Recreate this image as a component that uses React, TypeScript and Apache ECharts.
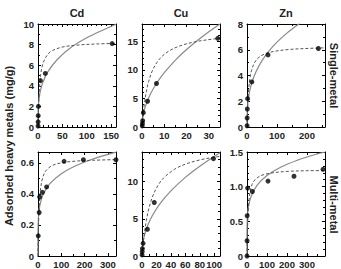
import React, { useEffect, useRef } from 'react';
import * as echarts from 'echarts';

const panelTitles = ['Cd', 'Cu', 'Zn'];
const rowLabels = ['Single-metal', 'Multi-metal'];
const yAxisTitle = 'Adsorbed heavy metals (mg/g)';

// ---- Single-metal: measured points ----
const cdSinglePointsX = [0.1, 0.2, 0.4, 0.8, 5, 15, 152];
const cdSinglePointsY = [0.1, 0.5, 1.1, 2.0, 4.5, 5.2, 8.1];
const cuSinglePointsX = [0.1, 0.2, 0.3, 0.6, 2.5, 6.5, 34];
const cuSinglePointsY = [0.2, 0.6, 1.1, 2.5, 4.5, 7.6, 15.5];
const znSinglePointsX = [0.3, 0.5, 1, 2, 16, 70, 238];
const znSinglePointsY = [0.1, 0.7, 1.4, 2.2, 3.5, 5.6, 6.1];

// ---- Single-metal: Freundlich (solid) curves ----
const cdSingleFreundlichX = [0, 0.05, 0.5, 1, 2, 5, 10, 20, 40, 70, 100, 130, 160];
const cdSingleFreundlichY = [0, 0.89, 1.77, 2.18, 2.68, 3.54, 4.35, 5.35, 6.58, 7.81, 8.66, 9.35, 9.98];
const cuSingleFreundlichX = [0, 0.1, 0.5, 1, 2, 4, 7, 10, 15, 20, 25, 30, 35];
const cuSingleFreundlichY = [0, 0.9, 2.05, 2.92, 4.16, 5.94, 7.9, 9.49, 11.69, 13.54, 15.17, 16.66, 18.02];
const znSingleFreundlichX = [0, 0.1, 1, 3, 8, 16, 30, 50, 75, 100, 130, 160, 175];
const znSingleFreundlichY = [0, 0.57, 1.28, 1.9, 2.69, 3.44, 4.29, 5.15, 5.95, 6.59, 7.23, 7.78, 8.04];

// ---- Single-metal: Langmuir (dashed) curves ----
const cdSingleLangmuirX = [0, 1, 2, 5, 10, 20, 30, 50, 80, 120, 160];
const cdSingleLangmuirY = [0, 1.84, 3.01, 4.88, 6.14, 7.06, 7.43, 7.76, 7.95, 8.06, 8.12];
const cuSingleLangmuirX = [0, 0.5, 1, 2, 3, 5, 8, 12, 17, 23, 29, 35];
const cuSingleLangmuirY = [0, 2.18, 3.87, 6.31, 7.98, 10.13, 11.94, 13.26, 14.17, 14.82, 15.22, 15.5];
const znSingleLangmuirX = [0, 1, 3, 6, 10, 15, 25, 40, 60, 90, 140, 200, 260];
const znSingleLangmuirY = [0, 0.84, 1.98, 3.02, 3.81, 4.39, 4.99, 5.42, 5.68, 5.87, 6.02, 6.1, 6.15];

// ---- Multi-metal: measured points ----
const cdMultiPointsX = [1, 5, 7, 19, 37, 112, 195, 335];
const cdMultiPointsY = [0.13, 0.28, 0.38, 0.41, 0.445, 0.61, 0.62, 0.62];
const cuMultiPointsX = [0.1, 0.3, 0.6, 1.5, 7.5, 17, 99];
const cuMultiPointsY = [0.15, 0.6, 1.0, 1.7, 3.6, 7.2, 13.1];
const znMultiPointsX = [0.1, 0.3, 0.8, 3, 27, 105, 235, 380];
const znMultiPointsY = [0.0, 0.22, 0.58, 0.98, 0.93, 1.08, 1.15, 1.25];

// ---- Multi-metal: Freundlich (solid) curves ----
const cdMultiFreundlichX = [0, 0.01, 0.1, 0.5, 1, 3, 8, 20, 50, 100, 160, 230, 335];
const cdMultiFreundlichY = [0, 0.09, 0.141, 0.192, 0.219, 0.27, 0.326, 0.389, 0.464, 0.53, 0.58, 0.622, 0.669];
const cuMultiFreundlichX = [0, 0.1, 1, 3, 8, 15, 25, 40, 60, 80, 100, 108];
const cuMultiFreundlichY = [0, 0.54, 1.58, 2.63, 4.14, 5.55, 7.04, 8.76, 10.58, 12.09, 13.41, 13.9];
const znMultiFreundlichX = [0, 0.01, 0.1, 1, 3, 8, 20, 50, 100, 170, 250, 320, 390];
const znMultiFreundlichY = [0, 0.204, 0.314, 0.486, 0.598, 0.72, 0.856, 1.018, 1.16, 1.283, 1.38, 1.446, 1.5];

// ---- Multi-metal: Langmuir (dashed) curves ----
const cdMultiLangmuirX = [0, 1, 3, 6, 10, 20, 35, 60, 100, 160, 240, 335];
const cdMultiLangmuirY = [0, 0.105, 0.236, 0.344, 0.42, 0.504, 0.551, 0.582, 0.6, 0.611, 0.617, 0.621];
const cuMultiLangmuirX = [0, 1, 3, 6, 10, 15, 22, 30, 45, 60, 80, 100, 108];
const cuMultiLangmuirY = [0, 1.09, 2.84, 4.78, 6.57, 8.09, 9.48, 10.51, 11.67, 12.36, 12.93, 13.3, 13.41];
const znMultiLangmuirX = [0, 1, 3, 6, 10, 15, 25, 40, 70, 120, 200, 300, 390];
const znMultiLangmuirY = [0, 0.19, 0.44, 0.65, 0.81, 0.92, 1.03, 1.1, 1.16, 1.196, 1.22, 1.23, 1.232];

// ---- Axis ranges (Cd, Cu, Zn single; Cd, Cu, Zn multi) ----
const xMaxes = [160, 35, 260, 335, 108, 390];
const xIntervals = [50, 10, 100, 100, 20, 100];
const xMinorSplits = [5, 2, 2, 2, 2, 2];
const yMaxes = [10, 18, 8, 0.67, 14, 1.5];
const yIntervals = [2, 5, 2, 0.2, 5, 0.5];
const yMinorSplits = [2, 5, 2, 2, 5, 5];
const yDecimals = [0, 0, 0, 1, 0, 1];

const pointsX = [cdSinglePointsX, cuSinglePointsX, znSinglePointsX, cdMultiPointsX, cuMultiPointsX, znMultiPointsX];
const pointsY = [cdSinglePointsY, cuSinglePointsY, znSinglePointsY, cdMultiPointsY, cuMultiPointsY, znMultiPointsY];
const freundX = [cdSingleFreundlichX, cuSingleFreundlichX, znSingleFreundlichX, cdMultiFreundlichX, cuMultiFreundlichX, znMultiFreundlichX];
const freundY = [cdSingleFreundlichY, cuSingleFreundlichY, znSingleFreundlichY, cdMultiFreundlichY, cuMultiFreundlichY, znMultiFreundlichY];
const langX = [cdSingleLangmuirX, cuSingleLangmuirX, znSingleLangmuirX, cdMultiLangmuirX, cuMultiLangmuirX, znMultiLangmuirX];
const langY = [cdSingleLangmuirY, cuSingleLangmuirY, znSingleLangmuirY, cdMultiLangmuirY, cuMultiLangmuirY, znMultiLangmuirY];

const FONT = '"Liberation Sans", Arial, sans-serif';
const colLeft = [38, 142, 247];
const colWidth = 78;
const rowTop = [24, 152];
const rowHeight = [103, 105];

const zip = (xs: number[], ys: number[]) => xs.map((x, i) => [x, ys[i]]);
const isMultiple = (v: number, step: number) => Math.abs(v / step - Math.round(v / step)) < 1e-6;

function buildOption() {
  const grid: any[] = [];
  const xAxis: any[] = [];
  const yAxis: any[] = [];
  const series: any[] = [];
  const graphic: any[] = [];

  for (let i = 0; i < 6; i++) {
    const row = Math.floor(i / 3);
    const col = i % 3;
    grid.push({ left: colLeft[col], top: rowTop[row], width: colWidth, height: rowHeight[row] });

    const lineStyle = { color: '#000', width: 1 };
    const tickCommon = { show: true, inside: true, length: 3, lineStyle };
    const xBase = {
      type: 'value', gridIndex: i, min: 0, max: xMaxes[i], interval: xIntervals[i],
      axisLine: { show: true, onZero: false, lineStyle },
      axisTick: tickCommon,
      minorTick: { show: true, splitNumber: xMinorSplits[i], length: 2, lineStyle },
      splitLine: { show: false },
      minorSplitLine: { show: false },
    };
    const xStep = xIntervals[i];
    xAxis.push({
      ...xBase, position: 'bottom',
      axisLabel: {
        show: true, margin: 3, fontFamily: FONT, fontWeight: 'bold', fontSize: 9.5, color: '#222',
        showMaxLabel: isMultiple(xMaxes[i], xStep),
        formatter: (v: number) => (isMultiple(v, xStep) ? String(Math.round(v)) : ''),
      },
    });
    xAxis.push({ ...xBase, position: 'top', axisLabel: { show: false } });

    const yStep = yIntervals[i];
    const dec = yDecimals[i];
    const yBase = {
      type: 'value', gridIndex: i, min: 0, max: yMaxes[i], interval: yStep,
      axisLine: { show: true, onZero: false, lineStyle },
      axisTick: tickCommon,
      minorTick: { show: true, splitNumber: yMinorSplits[i], length: 2, lineStyle },
      splitLine: { show: false },
      minorSplitLine: { show: false },
    };
    yAxis.push({
      ...yBase, position: 'left',
      axisLabel: {
        show: true, margin: 4, fontFamily: FONT, fontWeight: 'bold', fontSize: 9.5, color: '#222',
        showMaxLabel: isMultiple(yMaxes[i], yStep),
        formatter: (v: number) => (isMultiple(v, yStep) ? (v === 0 ? '0' : v.toFixed(dec)) : ''),
      },
    });
    yAxis.push({ ...yBase, position: 'right', axisLabel: { show: false } });

    const xi = i * 2;
    const yi = i * 2;
    series.push({
      type: 'line', xAxisIndex: xi, yAxisIndex: yi, data: zip(freundX[i], freundY[i]),
      showSymbol: false, symbol: 'none', smooth: 0.35, clip: true,
      lineStyle: { color: '#8a8a8a', width: 1.2 }, z: 2,
    });
    series.push({
      type: 'line', xAxisIndex: xi, yAxisIndex: yi, data: zip(langX[i], langY[i]),
      showSymbol: false, symbol: 'none', smooth: 0.35, clip: true,
      lineStyle: { color: '#555', width: 1, type: [3, 2] }, z: 3,
    });
    series.push({
      type: 'scatter', xAxisIndex: xi, yAxisIndex: yi, data: zip(pointsX[i], pointsY[i]),
      symbol: 'circle', symbolSize: 5, clip: false,
      itemStyle: { color: '#000' }, z: 4,
    });
  }

  panelTitles.forEach((t, c) => {
    graphic.push({
      type: 'text', x: colLeft[c] + colWidth / 2, y: 13,
      style: { text: t, font: `bold 11px ${FONT}`, fill: '#222', align: 'center', verticalAlign: 'middle' },
    });
  });
  graphic.push({
    type: 'text', x: 9, y: 146, rotation: Math.PI / 2,
    style: { text: yAxisTitle, font: `bold 11px ${FONT}`, fill: '#222', align: 'center', verticalAlign: 'middle' },
  });
  rowLabels.forEach((t, r) => {
    graphic.push({
      type: 'text', x: 334, y: rowTop[r] + rowHeight[r] / 2, rotation: -Math.PI / 2,
      style: { text: t, font: `bold 11px ${FONT}`, fill: '#222', align: 'center', verticalAlign: 'middle' },
    });
  });

  return { animation: false, backgroundColor: '#fff', grid, xAxis, yAxis, series, graphic };
}

export default function App() {
  const ref = useRef<HTMLDivElement>(null);
  useEffect(() => {
    if (!ref.current) return;
    const chart = echarts.init(ref.current, undefined, { renderer: 'svg' });
    chart.setOption(buildOption() as any);
    return () => chart.dispose();
  }, []);
  return (
    <div
      ref={ref}
      style={{ position: 'fixed', left: 0, top: 0, width: 341, height: 269, background: '#fff' }}
    />
  );
}
